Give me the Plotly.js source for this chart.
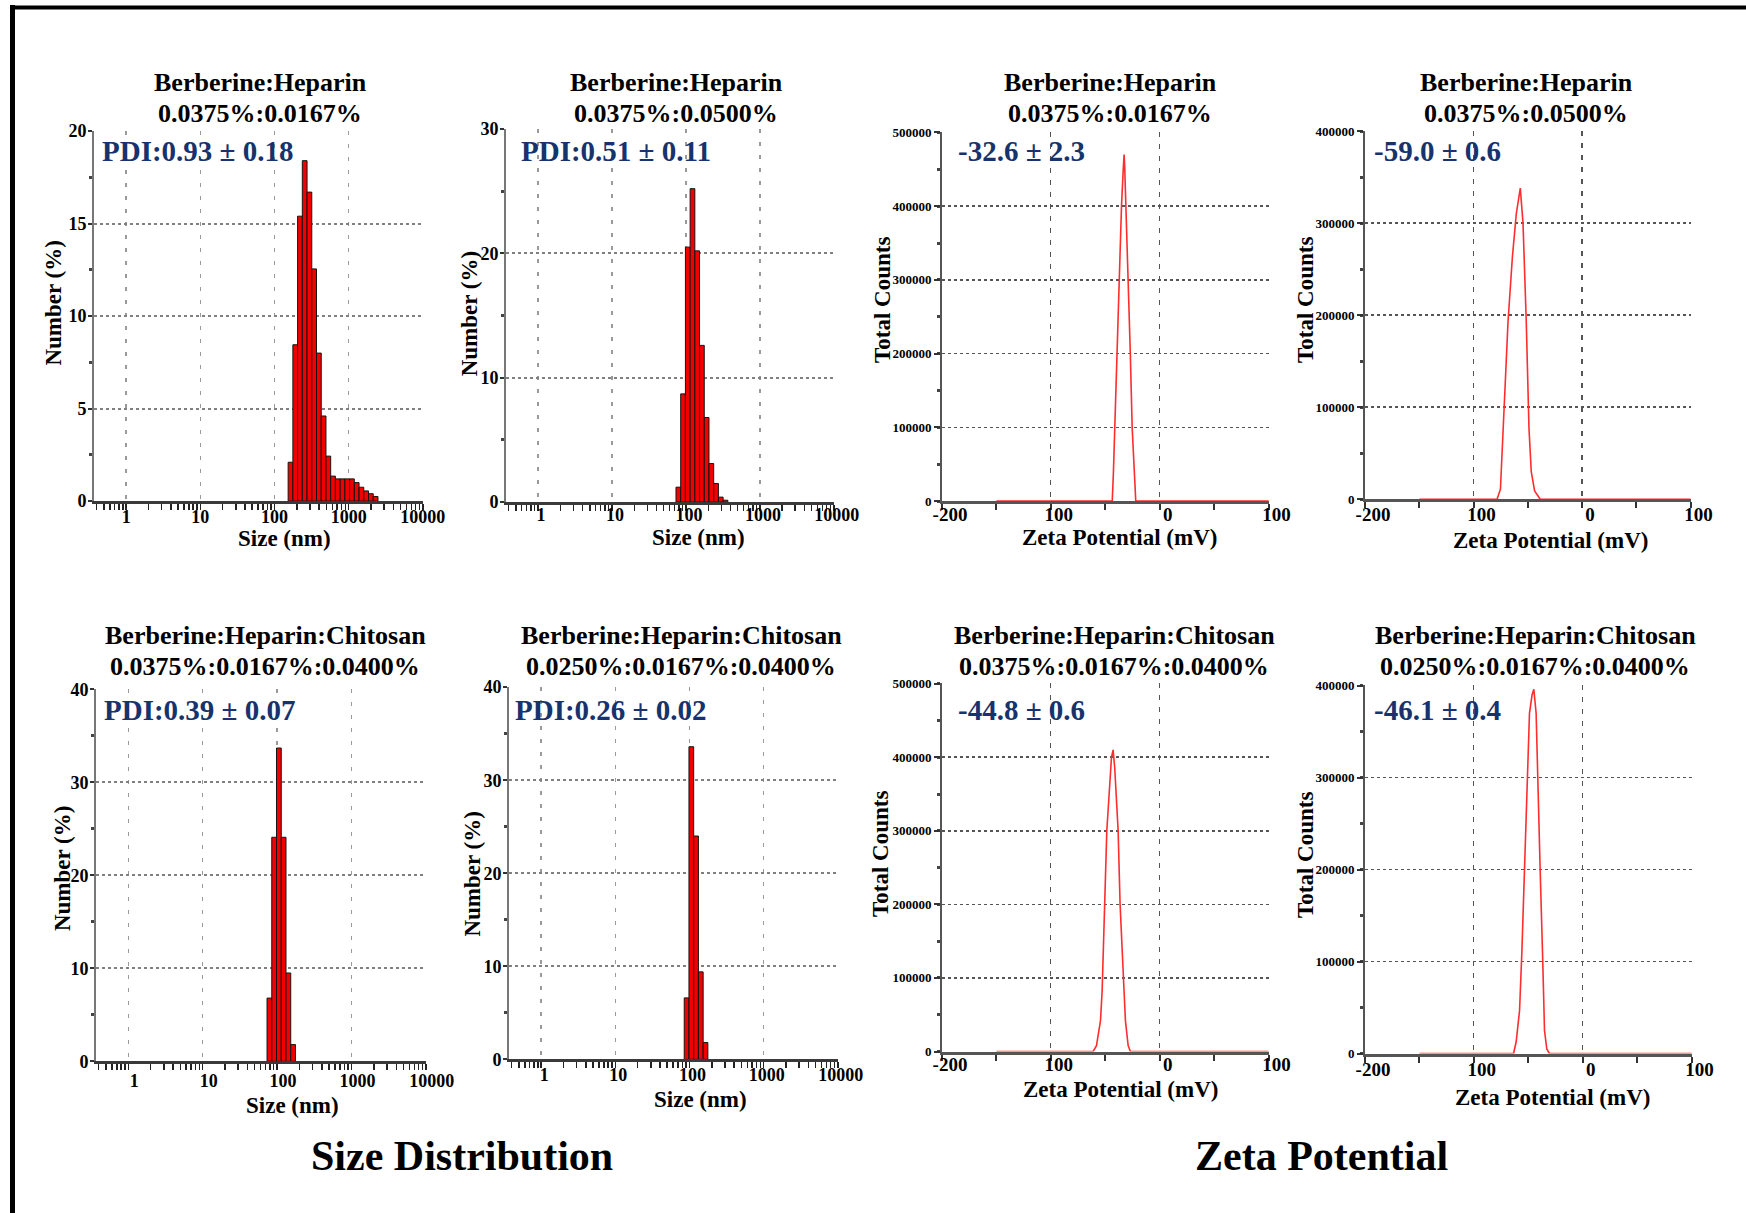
<!DOCTYPE html>
<html><head><meta charset="utf-8">
<script src="https://cdn.plot.ly/plotly-3.0.1.min.js"></script>
<style>html,body{margin:0;padding:0;background:#fff}</style>
</head><body><div id="chart" style="width:1746px;height:1213px"></div>
<script>
// ---------- DATA ----------
// Size distributions: class centre (nm) and Number (%)
const sizeA_nm  = [164.2, 190.1, 220.2, 255.0, 295.3, 342.0, 396.1, 458.7, 531.2, 615.1, 712.4, 825.0, 955.4, 1106, 1281, 1484, 1718, 1990, 2305];
const sizeA_pct = [2.1, 8.45, 15.4, 18.4, 16.7, 12.55, 8.0, 4.6, 2.43, 1.35, 1.2, 1.2, 1.2, 1.2, 1.0, 0.75, 0.55, 0.4, 0.25];
const sizeB_nm  = [78.82, 91.28, 105.7, 122.4, 141.8, 164.2, 190.1, 220.2, 255.0, 295.3, 342.0];
const sizeB_pct = [1.2, 8.7, 20.5, 25.2, 20.2, 12.6, 6.8, 3.1, 1.5, 0.4, 0.15];
const sizeC_nm  = [78.82, 91.28, 105.7, 122.4, 141.8, 164.2];
const sizeC_pct = [6.8, 24.1, 33.7, 24.1, 9.5, 1.8];
const sizeD_nm  = [91.28, 105.7, 122.4, 141.8, 164.2];
const sizeD_pct = [6.6, 33.6, 24.0, 9.4, 1.8];

// Zeta potential distributions: mV and Total Counts
const zetaA_mV  = [-150, -43.6, -42.5, -41.2, -39.5, -37.5, -35.1, -33.5, -32.7, -32.2, -30.5, -28.7, -27, -25.3, -23.5, -22, 100];
const zetaA_cnt = [0, 0, 40000, 100000, 200000, 300000, 400000, 450000, 470000, 455000, 380000, 300000, 200000, 100000, 40000, 0, 0];
const zetaB_mV  = [-150, -78.3, -75.2, -72.5, -68.2, -64.2, -60.6, -56.9, -55.5, -54.4, -51.4, -48.9, -46.8, -43.7, -38.5, 100];
const zetaB_cnt = [0, 0, 11000, 77000, 193000, 263000, 310000, 338000, 320000, 300000, 193000, 77000, 30000, 9000, 0, 0];
const zetaC_mV  = [-150, -61.2, -58.1, -54.4, -52.9, -50.5, -48.6, -44.3, -42.8, -41.3, -38.2, -36.4, -33.6, -31.5, -29, -26.9, 100];
const zetaC_cnt = [0, 0, 8000, 42000, 82000, 200000, 300000, 400000, 410000, 385000, 300000, 200000, 100000, 42000, 8000, 0, 0];
const zetaD_mV  = [-150, -63.5, -61.1, -58, -55.9, -53.5, -51.3, -48.9, -46.5, -44.9, -42.8, -41, -39.1, -36.7, -35.1, -33, -30.6, 100];
const zetaD_cnt = [0, 0, 13000, 47000, 110000, 200000, 300000, 370000, 390000, 396000, 370000, 300000, 200000, 100000, 25000, 5000, 0, 0];

// Tick labels
const sizeTickVals = [1, 10, 100, 1000, 10000];
const sizeTickText = ['1', '10', '100', '1000', '10000'];
const zetaTickVals = [-200, -100, 0, 100];
const zetaTickText = ['-200', '100', '0', '100'];
const countTickVals5 = [0, 100000, 200000, 300000, 400000, 500000];
const countTickText5 = ['0', '100000', '200000', '300000', '400000', '500000'];
const countTickVals4 = [0, 100000, 200000, 300000, 400000];
const countTickText4 = ['0', '100000', '200000', '300000', '400000'];

// Texts
const titleTop1 = ['Berberine:Heparin', 'Berberine:Heparin', 'Berberine:Heparin', 'Berberine:Heparin'];
const titleTop2 = ['0.0375%:0.0167%', '0.0375%:0.0500%', '0.0375%:0.0167%', '0.0375%:0.0500%'];
const titleBot1 = ['Berberine:Heparin:Chitosan', 'Berberine:Heparin:Chitosan', 'Berberine:Heparin:Chitosan', 'Berberine:Heparin:Chitosan'];
const titleBot2 = ['0.0375%:0.0167%:0.0400%', '0.0250%:0.0167%:0.0400%', '0.0375%:0.0167%:0.0400%', '0.0250%:0.0167%:0.0400%'];
const valueLabels = ['PDI:0.93 ± 0.18', 'PDI:0.51 ± 0.11', '-32.6 ± 2.3', '-59.0 ± 0.6',
                     'PDI:0.39 ± 0.07', 'PDI:0.26 ± 0.02', '-44.8 ± 0.6', '-46.1 ± 0.4'];

// ---------- LAYOUT HELPERS ----------
const W = 1746, H = 1213;
const FAM = 'Liberation Serif, Times New Roman, serif';
const px = v => v / W;
const py = v => 1 - v / H;
const xd = (l, r) => [px(l), px(r)];
const yd = (t, b) => [py(b), py(t)];

function barTrace(nm, pct, xa, ya) {
  const lo = [], wid = [];
  for (let i = 0; i < nm.length; i++) {
    const rPrev = i > 0 ? nm[i] / nm[i - 1] : nm[i + 1] / nm[i];
    const rNext = i < nm.length - 1 ? nm[i + 1] / nm[i] : nm[i] / nm[i - 1];
    const a = nm[i] / Math.sqrt(rPrev), b = nm[i] * Math.sqrt(rNext);
    lo.push(a); wid.push(b - a);
  }
  return {type: 'bar', x: lo, y: pct, width: wid, offset: 0, xaxis: xa, yaxis: ya,
    marker: {color: '#f20000', line: {color: '#151515', width: 1}}, hoverinfo: 'skip'};
}
function zetaTrace(mv, cnt, xa, ya) {
  return {type: 'scatter', mode: 'lines', x: mv, y: cnt, xaxis: xa, yaxis: ya, cliponaxis: false,
    line: {color: 'rgb(255,45,45)', width: 1.6}, hoverinfo: 'skip'};
}

const minorLog = [];
[0.1, 1, 10, 100, 1000].forEach(d => { for (let k = 2; k <= 9; k++) { const v = k * d; if (v > 0.37 && v < 10000) minorLog.push(v); } });

function sizeX(dom, shift, standoff) {
  return {type: 'log', domain: dom, range: [Math.log10(0.368), Math.log10(10040)],
    tickmode: 'array', tickvals: sizeTickVals, ticktext: sizeTickText,
    ticks: 'outside', ticklen: 6, tickwidth: 1.5, tickcolor: '#222', ticklabelshift: shift, ticklabelstandoff: standoff,
    showline: true, linecolor: '#3a3a3a', linewidth: 3,
    showgrid: true, gridcolor: '#9a9a9a', griddash: '4px,9px', gridwidth: 1.5, zeroline: false,
    minor: {tickvals: minorLog, ticks: 'outside', ticklen: 6, tickwidth: 1.5, tickcolor: '#222', showgrid: false},
    tickfont: {family: FAM, size: 18, color: '#000', weight: 'bold'}, fixedrange: true};
}
function sizeY(dom, ymax, dt, mdt) {
  return {domain: dom, range: [0, ymax * 1.001], tickmode: 'linear', tick0: 0, dtick: dt,
    ticks: 'outside', ticklen: 4, tickwidth: 2, tickcolor: '#333', ticklabelstandoff: -2,
    showline: true, linecolor: '#777', linewidth: 2,
    showgrid: true, gridcolor: '#808080', griddash: 'dot', gridwidth: 2, zeroline: false,
    minor: {dtick: mdt, tick0: 0, ticks: 'outside', ticklen: 3, tickwidth: 3, tickcolor: '#444', showgrid: false},
    tickfont: {family: FAM, size: 18, color: '#000', weight: 'bold'}, fixedrange: true};
}
function zetaX(dom, standoff) {
  return {domain: dom, range: [-200, 100.4], tickmode: 'array', tickvals: zetaTickVals, ticktext: zetaTickText,
    ticks: 'outside', ticklen: 6, tickwidth: 2, tickcolor: '#333', ticklabelshift: 8, ticklabelstandoff: standoff,
    showline: true, linecolor: '#555', linewidth: 3, layer: 'below traces',
    showgrid: true, gridcolor: '#555', griddash: '5px,7px', gridwidth: 1.2, zeroline: false,
    minor: {tickvals: [-150, -50, 50], ticks: 'outside', ticklen: 6, tickwidth: 2, tickcolor: '#333', showgrid: false},
    tickfont: {family: FAM, size: 19, color: '#000', weight: 'bold'}, fixedrange: true};
}
function zetaY(dom, ymax, tv, tt) {
  return {domain: dom, range: [0, ymax * 1.001], tickmode: 'array', tickvals: tv, ticktext: tt,
    ticks: 'outside', ticklen: 6, tickwidth: 2, tickcolor: '#333',
    showline: true, linecolor: '#555', linewidth: 2, layer: 'below traces',
    showgrid: true, gridcolor: '#555', griddash: 'dot', gridwidth: 1.5, zeroline: false,
    minor: {dtick: 50000, tick0: 0, ticks: 'outside', ticklen: 3, tickwidth: 3, tickcolor: '#444', showgrid: false},
    tickfont: {family: FAM, size: 13, color: '#000', weight: 'bold'}, fixedrange: true};
}

const data = [
  barTrace(sizeA_nm, sizeA_pct, 'x', 'y'),
  barTrace(sizeB_nm, sizeB_pct, 'x2', 'y2'),
  zetaTrace(zetaA_mV, zetaA_cnt, 'x3', 'y3'),
  zetaTrace(zetaB_mV, zetaB_cnt, 'x4', 'y4'),
  barTrace(sizeC_nm, sizeC_pct, 'x5', 'y5'),
  barTrace(sizeD_nm, sizeD_pct, 'x6', 'y6'),
  zetaTrace(zetaC_mV, zetaC_cnt, 'x7', 'y7'),
  zetaTrace(zetaD_mV, zetaD_cnt, 'x8', 'y8')
];

const ann = [];
function txt(t, x, y, size, opts) {
  ann.push(Object.assign({text: t, x: px(x), y: py(y), xref: 'paper', yref: 'paper', showarrow: false,
    xanchor: 'center', yanchor: 'middle',
    font: {family: FAM, size: size, color: '#000', weight: 'bold'}}, opts || {}));
}
// panel titles
[260, 676, 1110, 1526].forEach((x, i) => { txt(titleTop1[i], x, 82, 26); txt(titleTop2[i], x, 113.5, 26); });
[265, 681, 1114, 1535].forEach((x, i) => { txt(titleBot1[i], x, 635, 26); txt(titleBot2[i], x, 666, 26); });
// value labels
const valPos = [[100, 150.5], [519, 151], [956, 151], [1372, 150.5], [102, 709.5], [513, 709.5], [956, 709.5], [1372, 709.5]];
valPos.forEach((p, i) => txt(valueLabels[i], p[0], p[1], 29,
  {xanchor: 'left', font: {family: FAM, size: 29, color: '#17336e', weight: 'bold'}}));
// axis titles
[[284, 538.5], [698, 537], [292, 1105], [700, 1099.5]].forEach(p => txt('Size (nm)', p[0], p[1], 23));
[[1119, 537.5], [1550, 540.5], [1120, 1089.5], [1552, 1097.5]].forEach(p => txt('Zeta Potential (mV)', p[0], p[1], 23));
[[54, 303.6], [469, 314.3], [62.5, 868.6], [473, 873.6]].forEach(p => txt('Number (%)', p[0], p[1], 23, {textangle: -90}));
[[882, 300], [1305, 300], [880, 854], [1305, 855]].forEach(p => txt('Total Counts', p[0], p[1], 23, {textangle: -90}));
// section labels
txt('Size Distribution', 462, 1156, 42);
txt('Zeta Potential', 1321, 1156, 42);

const layout = {
  width: W, height: H, margin: {l: 0, r: 0, t: 0, b: 0},
  paper_bgcolor: '#fff', plot_bgcolor: 'rgba(0,0,0,0)', showlegend: false, hovermode: false,
  xaxis: sizeX(xd(94, 423), 0, -9),     yaxis: sizeY(yd(130.7, 501.1), 20, 5, 2.5),
  xaxis2: sizeX(xd(506, 834), 3, -12),  yaxis2: sizeY(yd(128.6, 502.1), 30, 10, 5),
  xaxis3: zetaX(xd(942, 1269), -12),    yaxis3: zetaY(yd(132.1, 501.1), 500000, countTickVals5, countTickText5),
  xaxis4: zetaX(xd(1365, 1691), -10),   yaxis4: zetaY(yd(130.7, 499.3), 400000, countTickVals4, countTickText4),
  xaxis5: sizeX(xd(96, 426), 6, -5),    yaxis5: sizeY(yd(689.1, 1061.3), 40, 10, 5),
  xaxis6: sizeX(xd(509, 838), 3, -9),   yaxis6: sizeY(yd(686.8, 1059.3), 40, 10, 5),
  xaxis7: zetaX(xd(942, 1269), -12),    yaxis7: zetaY(yd(683.3, 1051.5), 500000, countTickVals5, countTickText5),
  xaxis8: zetaX(xd(1365, 1692), -9),    yaxis8: zetaY(yd(685.2, 1053.5), 400000, countTickVals4, countTickText4),
  annotations: ann,
  shapes: [
    {type: 'line', xref: 'paper', yref: 'paper', x0: px(12.5), x1: px(12.5), y0: py(5), y1: 0, line: {color: '#000', width: 5}},
    {type: 'line', xref: 'paper', yref: 'paper', x0: px(10), x1: 1, y0: py(7.5), y1: py(7.5), line: {color: '#000', width: 4}}
  ]
};
for (let i = 1; i <= 8; i++) {
  const s = i === 1 ? '' : String(i);
  layout['xaxis' + s].anchor = 'y' + s;
  layout['yaxis' + s].anchor = 'x' + s;
}

Plotly.newPlot('chart', data, layout, {staticPlot: true, displayModeBar: false});
</script>
</body></html>
